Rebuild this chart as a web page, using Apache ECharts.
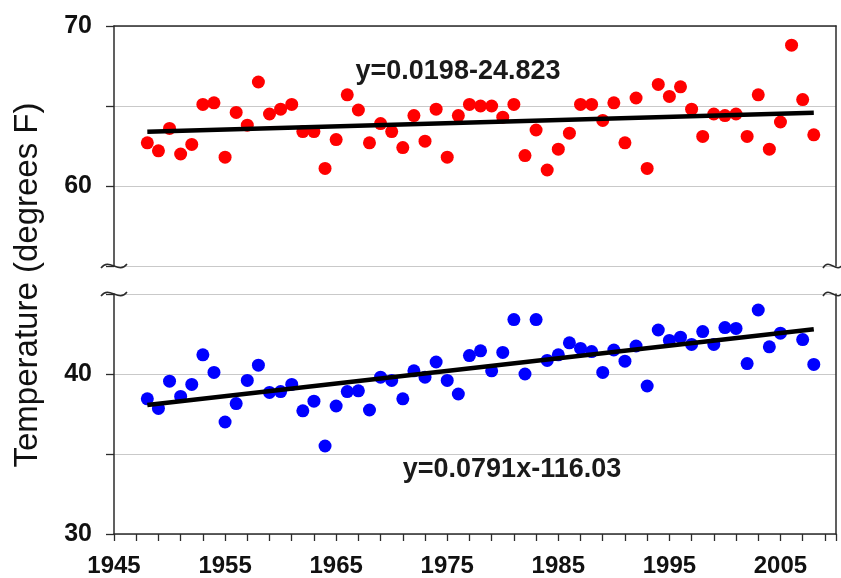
<!DOCTYPE html>
<html>
<head>
<meta charset="utf-8">
<script src="https://cdn.jsdelivr.net/npm/echarts@6.0.0/dist/echarts.min.js"></script>
<style>html,body{margin:0;padding:0;background:#fff;}#c{width:841px;height:578px;}</style>
</head>
<body>
<div id="c"></div>
<script>
const years = [1948,1949,1950,1951,1952,1953,1954,1955,1956,1957,1958,1959,1960,1961,1962,1963,1964,1965,1966,1967,1968,
  1969,1970,1971,1972,1973,1974,1975,1976,1977,1978,1979,1980,1981,1982,1983,1984,1985,1986,1987,1988,1989,
  1990,1991,1992,1993,1994,1995,1996,1997,1998,1999,2000,2001,2002,2003,2004,2005,2006,2007,2008];
const redValues = [62.7,62.2,63.6,62.0,62.6,65.1,65.2,61.8,64.6,63.8,66.5,64.5,64.8,65.1,63.4,63.4,61.1,62.9,65.7,64.75,62.7,
  63.9,63.4,62.4,64.4,62.8,64.8,61.8,64.4,65.1,65.0,65.0,64.3,65.1,61.9,63.5,61.0,62.3,63.3,65.1,65.1,64.1,
  65.2,62.7,65.5,61.1,66.35,65.6,66.2,64.8,63.1,64.5,64.4,64.5,63.1,65.7,62.3,64.0,68.8,65.4,63.2];
const blueValues = [38.45,37.85,39.55,38.6,39.35,41.2,40.1,37.0,38.15,39.6,40.55,38.85,38.9,39.35,37.7,38.3,35.5,38.0,38.9,38.95,37.75,
  39.8,39.6,38.45,40.2,39.8,40.75,39.6,38.75,41.15,41.45,40.2,41.35,43.4,40.0,43.4,40.85,41.2,41.95,41.6,41.4,40.1,
  41.5,40.8,41.75,39.25,42.75,42.1,42.3,41.85,42.65,41.85,42.9,42.85,40.65,44.0,41.7,42.55,null,42.15,40.6];
const trendYears = [1948, 2008];
const redTrend = [63.39, 64.58];
const blueTrend = [38.06, 42.80];
const redEquation = 'y=0.0198-24.823';
const blueEquation = 'y=0.0791x-116.03';
const yTitle = 'Temperature (degrees F)';

const FONT = 'Liberation Sans, Arial, sans-serif';
const AX = '#2b2b2b';
const GRIDC = '#c9c9c9';

const pair = (xs, ys) => xs.map((x, i) => [x, ys[i]]);

const chart = echarts.init(document.getElementById('c'));

function waveGraphic(cx, cy, w) {
  const h = w / 2;
  return {
    type: 'bezierCurve', x: cx, y: cy, silent: true, z: 10,
    shape: { x1: -h, y1: 2, cpx1: -h * 0.35, cpy1: -9, cpx2: h * 0.35, cpy2: 9, x2: h, y2: -2 },
    style: { stroke: AX, lineWidth: 1.5, fill: null }
  };
}

const yLabel = {
  show: true, fontFamily: FONT, fontWeight: 'bold', fontSize: 25, color: '#111', margin: 22,
  formatter: v => (v % 10 === 0 ? String(v) : '')
};

const option = {
  animation: false,
  backgroundColor: '#fff',
  grid: [
    { left: 114, right: 5, top: 26, height: 240, containLabel: false },
    { left: 114, right: 5, top: 294, height: 240, containLabel: false }
  ],
  xAxis: [
    { type: 'value', gridIndex: 0, position: 'top', min: 1945, max: 2010,
      axisLine: { show: true, onZero: false, lineStyle: { color: AX, width: 1.5 } },
      axisTick: { show: false }, axisLabel: { show: false }, splitLine: { show: false } },
    { type: 'value', gridIndex: 1, position: 'bottom', min: 1945, max: 2010, interval: 5,
      axisLine: { show: true, onZero: false, lineStyle: { color: AX, width: 1.5 } },
      axisTick: { show: false },
      axisLabel: { show: true, fontFamily: FONT, fontWeight: 'bold', fontSize: 24, color: '#111', margin: 20,
        formatter: v => ((v - 1945) % 10 === 0 && v < 2010 ? String(v) : '') },
      splitLine: { show: false } },
    { type: 'value', gridIndex: 1, position: 'bottom', min: 0, max: 65, interval: 2,
      axisLine: { show: false, onZero: false },
      axisTick: { show: true, length: 7, lineStyle: { color: AX, width: 1.3 } },
      axisLabel: { show: false }, splitLine: { show: false } }
  ],
  yAxis: [
    { type: 'value', gridIndex: 0, position: 'left', min: 55, max: 70, interval: 5,
      axisLine: { show: true, onZero: false, lineStyle: { color: AX, width: 1.5 } },
      axisTick: { show: true, length: 8, lineStyle: { color: AX, width: 1.3 } },
      axisLabel: yLabel,
      splitLine: { show: true, lineStyle: { color: GRIDC, width: 1 } } },
    { type: 'value', gridIndex: 0, position: 'right', min: 55, max: 70, interval: 5,
      axisLine: { show: true, onZero: false, lineStyle: { color: AX, width: 1.5 } },
      axisTick: { show: false }, axisLabel: { show: false }, splitLine: { show: false } },
    { type: 'value', gridIndex: 1, position: 'left', min: 30, max: 45, interval: 5,
      axisLine: { show: true, onZero: false, lineStyle: { color: AX, width: 1.5 } },
      axisTick: { show: true, length: 8, lineStyle: { color: AX, width: 1.3 } },
      axisLabel: yLabel,
      splitLine: { show: true, lineStyle: { color: GRIDC, width: 1 } } },
    { type: 'value', gridIndex: 1, position: 'right', min: 30, max: 45, interval: 5,
      axisLine: { show: true, onZero: false, lineStyle: { color: AX, width: 1.5 } },
      axisTick: { show: false }, axisLabel: { show: false }, splitLine: { show: false } }
  ],
  series: [
    { type: 'scatter', xAxisIndex: 0, yAxisIndex: 0, data: pair(years, redValues),
      symbolSize: 13, itemStyle: { color: '#ff0000', opacity: 1 }, z: 2 },
    { type: 'line', xAxisIndex: 0, yAxisIndex: 0, data: pair(trendYears, redTrend),
      symbol: 'none', lineStyle: { color: '#000', width: 4.5 }, z: 3 },
    { type: 'scatter', xAxisIndex: 1, yAxisIndex: 2, data: pair(years, blueValues),
      symbolSize: 13, itemStyle: { color: '#0000ff', opacity: 1 }, z: 2 },
    { type: 'line', xAxisIndex: 1, yAxisIndex: 2, data: pair(trendYears, blueTrend),
      symbol: 'none', lineStyle: { color: '#000', width: 4.5 }, z: 3 }
  ],
  graphic: [
    { type: 'text', x: 458, y: 72, silent: true,
      style: { text: redEquation, font: 'bold 27px ' + FONT, fill: '#1a1a1a', align: 'center', verticalAlign: 'middle' } },
    { type: 'text', x: 512, y: 470, silent: true,
      style: { text: blueEquation, font: 'bold 27px ' + FONT, fill: '#1a1a1a', align: 'center', verticalAlign: 'middle' } },
    { type: 'text', x: 28, y: 285, rotation: Math.PI / 2, silent: true,
      style: { text: yTitle, font: '33px ' + FONT, fill: '#111', align: 'center', verticalAlign: 'middle' } },
    waveGraphic(114, 266, 26),
    waveGraphic(114, 294, 26),
    waveGraphic(833, 266, 20),
    waveGraphic(833, 294, 20)
  ]
};
chart.setOption(option);
</script>
</body>
</html>
